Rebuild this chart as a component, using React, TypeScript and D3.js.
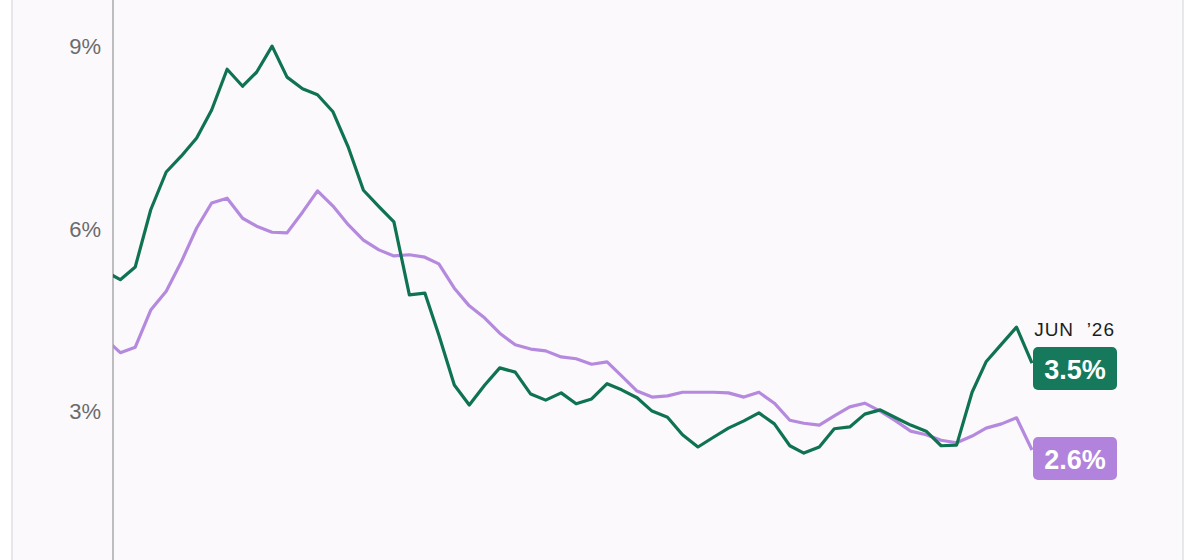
import React, { useEffect, useRef } from 'react';
import * as d3 from 'd3';

// monthly readings, May 2021 .. Jun 2026
const months = d3.timeMonth.range(new Date(2021, 4, 1), new Date(2026, 6, 1));

const greenSeries = [
  5.31, 5.17, 5.38, 6.32, 6.94, 7.2, 7.5, 7.96, 8.63, 8.35, 8.58, 9.01, 8.5, 8.31, 8.21, 7.93,
  7.34, 6.64, 6.37, 6.12, 4.92, 4.95, 4.26, 3.44, 3.11, 3.44, 3.72, 3.65, 3.29, 3.19, 3.31, 3.13,
  3.21, 3.46, 3.36, 3.23, 3.01, 2.91, 2.62, 2.42, 2.58, 2.73, 2.85, 2.98, 2.8, 2.44, 2.32, 2.42,
  2.72, 2.75, 2.96, 3.03, 2.9, 2.78, 2.68, 2.44, 2.45, 3.32, 3.82, 4.11, 4.39, 3.8,
];

const purpleSeries = [
  4.21, 3.97, 4.06, 4.67, 4.98, 5.46, 6.02, 6.43, 6.51, 6.18, 6.05, 5.95, 5.94, 6.28, 6.63, 6.38,
  6.07, 5.82, 5.66, 5.56, 5.58, 5.54, 5.43, 5.03, 4.74, 4.54, 4.29, 4.1, 4.03, 4.0, 3.9, 3.87,
  3.78, 3.82, 3.59, 3.34, 3.24, 3.26, 3.32, 3.32, 3.32, 3.31, 3.24, 3.32, 3.14, 2.86, 2.81, 2.78,
  2.93, 3.08, 3.14, 3.01, 2.85, 2.68, 2.62, 2.53, 2.49, 2.6, 2.73, 2.8, 2.9, 2.37,
];

const yTicks = [3, 6, 9];
const endLabel = 'JUN  ’26';
const greenLabel = '3.5%';
const purpleLabel = '2.6%';

const GREEN = '#0f7352';
const GREEN_BOX = '#16795b';
const PURPLE = '#b58ade';
const PURPLE_BOX = '#b283dc';

const width = 1200;
const height = 560;
const axisX = 113;

export default function App() {
  const ref = useRef<SVGSVGElement>(null);

  useEffect(() => {
    const svg = d3.select(ref.current);
    svg.selectAll('*').remove();

    const x = d3
      .scaleTime()
      .domain([months[0], months[months.length - 1]])
      .range([104.8, 1032]);
    const y = d3.scaleLinear().domain([0, 9]).range([594.2, 46.7]);

    // card
    svg.append('rect').attr('width', width).attr('height', height).attr('fill', '#ffffff');
    svg
      .append('rect')
      .attr('x', 12)
      .attr('y', -2)
      .attr('width', 1171)
      .attr('height', height + 4)
      .attr('fill', '#fbf9fc')
      .attr('stroke', '#e2e0e3')
      .attr('stroke-width', 1.5);

    svg
      .append('defs')
      .append('clipPath')
      .attr('id', 'plot')
      .append('rect')
      .attr('x', axisX)
      .attr('y', 0)
      .attr('width', width - axisX)
      .attr('height', height);

    // y axis
    svg
      .append('line')
      .attr('x1', axisX)
      .attr('x2', axisX)
      .attr('y1', 0)
      .attr('y2', height)
      .attr('stroke', '#a9a8ab')
      .attr('stroke-width', 1.5);

    svg
      .append('g')
      .selectAll('text')
      .data(yTicks)
      .enter()
      .append('text')
      .attr('x', 101)
      .attr('y', (d) => y(d))
      .attr('text-anchor', 'end')
      .attr('dominant-baseline', 'central')
      .attr('font-family', 'Liberation Sans, Arial, sans-serif')
      .attr('font-size', 22)
      .attr('fill', '#6b6b6b')
      .text((d) => d + '%');

    const line = d3
      .line<number>()
      .x((_, i) => x(months[i]))
      .y((d) => y(d));

    const g = svg.append('g').attr('clip-path', 'url(#plot)');
    g.append('path')
      .attr('d', line(purpleSeries))
      .attr('fill', 'none')
      .attr('stroke', PURPLE)
      .attr('stroke-width', 3.2)
      .attr('stroke-linejoin', 'round');
    g.append('path')
      .attr('d', line(greenSeries))
      .attr('fill', 'none')
      .attr('stroke', GREEN)
      .attr('stroke-width', 3.2)
      .attr('stroke-linejoin', 'round');

    // end labels
    svg
      .append('text')
      .attr('x', 1115)
      .attr('y', 329)
      .attr('text-anchor', 'end')
      .attr('dominant-baseline', 'central')
      .attr('font-family', 'Liberation Sans, Arial, sans-serif')
      .attr('font-size', 19)
      .attr('letter-spacing', 1)
      .attr('fill', '#1d1d1d')
      .style('white-space', 'pre')
      .text(endLabel);

    const boxes = [
      { label: greenLabel, fill: GREEN_BOX, top: 347 },
      { label: purpleLabel, fill: PURPLE_BOX, top: 437 },
    ];
    const bg = svg.append('g').selectAll('g').data(boxes).enter().append('g');
    bg.append('rect')
      .attr('x', 1033)
      .attr('y', (d) => d.top)
      .attr('width', 84)
      .attr('height', 43)
      .attr('rx', 5)
      .attr('fill', (d) => d.fill);
    bg.append('text')
      .attr('x', 1075)
      .attr('y', (d) => d.top + 22.5)
      .attr('text-anchor', 'middle')
      .attr('dominant-baseline', 'central')
      .attr('font-family', 'Liberation Sans, Arial, sans-serif')
      .attr('font-weight', 'bold')
      .attr('font-size', 27)
      .attr('fill', '#ffffff')
      .text((d) => d.label);
  }, []);

  return (
    <svg
      ref={ref}
      width={width}
      height={height}
      style={{ position: 'absolute', left: 0, top: 0, display: 'block' }}
    />
  );
}
